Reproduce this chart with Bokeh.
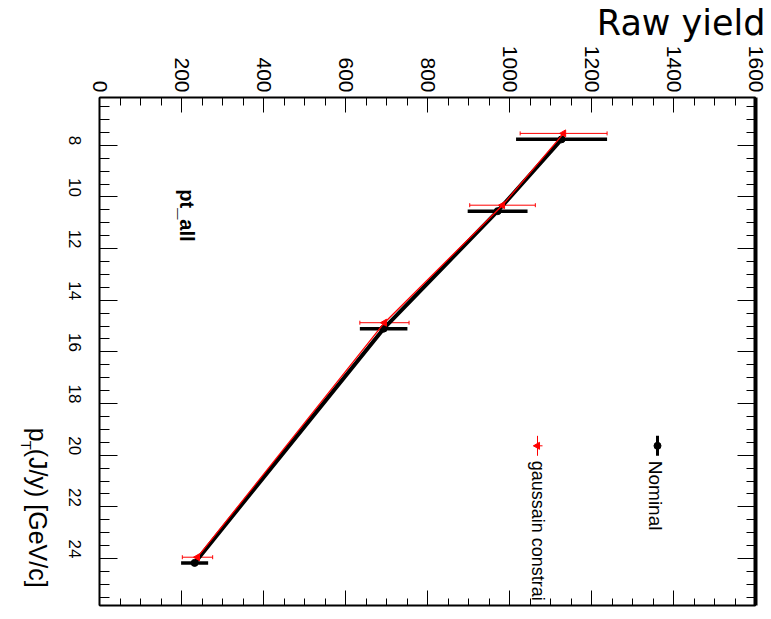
import math

from bokeh.embed import file_html
from bokeh.models import (ColumnDataSource, CustomJSTickFormatter, Label, LinearAxis,
                          Range1d, SingleIntervalTicker, TeeHead, Title, Whisker)
from bokeh.plotting import figure
from bokeh.resources import INLINE

# Raw J/psi yield per pT bin for the two signal-extraction variants
pt_nominal = [7.77, 10.55, 15.10, 24.17]
yield_nominal = [1127, 971, 693, 232]
err_nominal = [111, 73, 58, 33]

pt_gauss = [7.54, 10.32, 14.87, 23.95]
yield_gauss = [1132, 983, 695, 239]
err_gauss = [106, 80, 60, 37]

legend_labels = ["Nominal", "gaussain constrai"]

# axis extents
YIELD_MIN, YIELD_MAX = 0, 1600
PT_TOP, PT_BOTTOM = 6.15, 25.82

W, H = 771, 619
FL, FR, FT, FB = 99, 755, 96, 605  # frame edges in pixels

FONT = "Liberation Sans"


def sx(px):
    """horizontal pixel position -> yield coordinate"""
    return YIELD_MIN + (px - FL) / (FR - FL) * (YIELD_MAX - YIELD_MIN)


def sy(py):
    """vertical pixel position -> pT coordinate"""
    return PT_TOP + (py - FT) / (FB - FT) * (PT_BOTTOM - PT_TOP)


p = figure(width=W, height=H, output_backend="svg", toolbar_location=None,
           x_range=Range1d(YIELD_MIN, YIELD_MAX),
           y_range=Range1d(PT_BOTTOM, PT_TOP),
           x_axis_location="above", y_axis_location="left",
           min_border_left=FL, min_border_right=W - FR,
           min_border_top=FT, min_border_bottom=H - FB)
p.grid.visible = False
p.outline_line_color = "black"
p.outline_line_width = 1
p.background_fill_color = "white"
p.border_fill_color = "white"


def style_axis(ax, interval, major_in, minor_in, label_size, standoff, width=2, labels=True):
    ax.ticker = SingleIntervalTicker(interval=interval, num_minor_ticks=4)
    ax.major_tick_in = major_in
    ax.major_tick_out = 0
    ax.minor_tick_in = minor_in
    ax.minor_tick_out = 0
    ax.axis_line_width = width
    ax.axis_line_color = "black"
    ax.major_tick_line_color = "black"
    ax.minor_tick_line_color = "black"
    ax.major_tick_line_width = 1
    ax.minor_tick_line_width = 1
    if labels:
        ax.major_label_orientation = -math.pi / 2
        ax.major_label_text_font = FONT
        ax.major_label_text_font_size = label_size
        ax.major_label_text_color = "black"
        ax.major_label_standoff = standoff
    else:
        ax.formatter = CustomJSTickFormatter(code="return ''")
        ax.major_label_text_font_size = "0px"
        ax.major_label_standoff = 0


# yield axis on top, pT axis on the left, mirrored ticks on the other sides
style_axis(p.xaxis[0], 200, 15, 8, "21px", 5)
style_axis(p.yaxis[0], 2, 18, 10, "17px", 25)

bottom = LinearAxis()
style_axis(bottom, 200, 15, 7, "0px", 0, labels=False)
p.add_layout(bottom, "below")
right = LinearAxis()
style_axis(right, 2, 18, 9, "0px", 0, width=4, labels=False)
p.add_layout(right, "right")

src_nom = ColumnDataSource(dict(
    pt=pt_nominal, y=yield_nominal,
    lo=[v - e for v, e in zip(yield_nominal, err_nominal)],
    hi=[v + e for v, e in zip(yield_nominal, err_nominal)]))
src_gau = ColumnDataSource(dict(
    pt=pt_gauss, y=yield_gauss,
    lo=[v - e for v, e in zip(yield_gauss, err_gauss)],
    hi=[v + e for v, e in zip(yield_gauss, err_gauss)]))

# nominal: thick black
p.line("y", "pt", source=src_nom, line_color="black", line_width=4)
p.segment(x0="lo", x1="hi", y0="pt", y1="pt", source=src_nom,
          line_color="black", line_width=3.5)
p.scatter("y", "pt", source=src_nom, marker="circle", size=7,
          fill_color="black", line_color="black")

# gaussian-constrained: thin red
p.line("y", "pt", source=src_gau, line_color="red", line_width=1.3)
p.add_layout(Whisker(base="pt", lower="lo", upper="hi", dimension="width",
                     source=src_gau, line_color="red", line_width=1,
                     upper_head=TeeHead(size=4, line_color="red", line_width=1),
                     lower_head=TeeHead(size=4, line_color="red", line_width=1)))
p.scatter("y", "pt", source=src_gau, marker="triangle", angle=math.pi / 2,
          size=7, fill_color="red", line_color="red")

# legend, drawn rotated like the rest of the canvas
leg_y0, leg_y1, leg_mid = sy(435), sy(455), sy(445)
x_nom, x_gau = sx(657), sx(537)
p.segment(x0=[x_nom], x1=[x_nom], y0=[leg_y0], y1=[leg_y1], line_color="black", line_width=3)
p.scatter([x_nom], [leg_mid], marker="circle", size=7, fill_color="black", line_color="black")
p.segment(x0=[x_gau], x1=[x_gau], y0=[leg_y0], y1=[leg_y1], line_color="red", line_width=1)
p.segment(x0=[sx(533)], x1=[sx(542)], y0=[leg_mid], y1=[leg_mid], line_color="red", line_width=1)
p.scatter([x_gau], [leg_mid], marker="triangle", angle=math.pi / 2, size=7,
          fill_color="red", line_color="red")


def rot_label(text, px, py, size, style="normal", place=None):
    lab = Label(x=sx(px), y=sy(py), text=text, angle=-math.pi / 2,
                text_align="left", text_baseline="middle",
                text_font=FONT, text_font_size=size,
                text_font_style=style, text_color="black")
    if place is None:
        p.add_layout(lab)
    else:
        p.add_layout(lab, place)


rot_label(legend_labels[0], 655, 460, "19px")
rot_label(legend_labels[1], 537, 460, "18px")
rot_label("pt_all", 186, 188, "20px", style="bold")

# pT axis title in the left border; the subscript T sits in the gap after "p"
t0 = 427
rot_label("p (J/y) [GeV/c]", 37, t0, "25px", place="left")
rot_label("T", 26, t0 + 13, "15px", place="left")

# yield axis title
p.add_layout(Title(text="Raw yield", align="right", text_font="DejaVu Sans",
                   text_font_size="35px", text_font_style="normal",
                   text_color="black", standoff=0, offset=-10), "above")

open("out.html", "w").write(file_html(p, INLINE))
